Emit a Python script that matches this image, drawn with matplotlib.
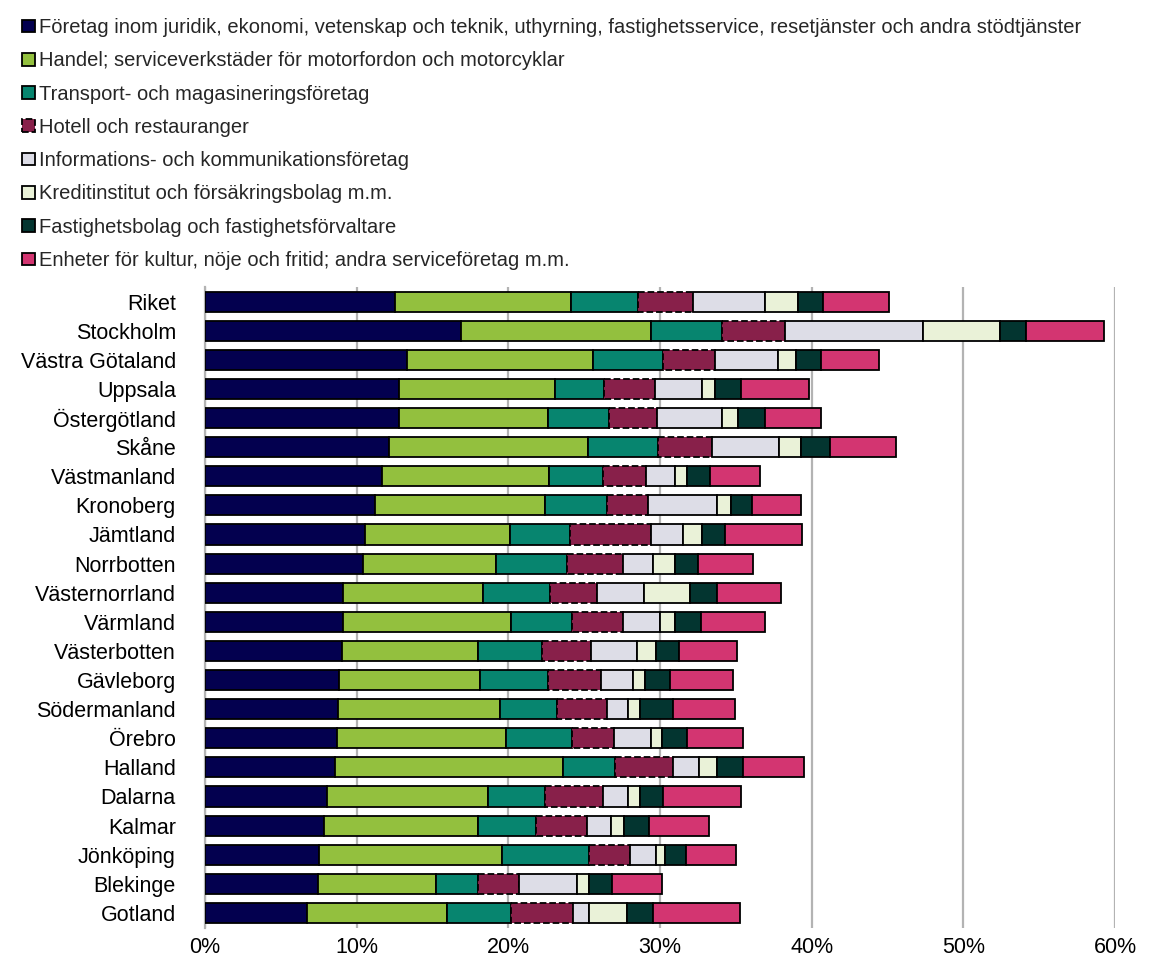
import numpy as np
import matplotlib
matplotlib.use("Agg")
import matplotlib.pyplot as plt
from matplotlib.ticker import PercentFormatter

plt.rcParams['font.family'] = ['Liberation Sans', 'DejaVu Sans']

regions = ["Riket", "Stockholm", "Västra Götaland", "Uppsala", "Östergötland", "Skåne",
           "Västmanland", "Kronoberg", "Jämtland", "Norrbotten", "Västernorrland", "Värmland",
           "Västerbotten", "Gävleborg", "Södermanland", "Örebro", "Halland", "Dalarna",
           "Kalmar", "Jönköping", "Blekinge", "Gotland"]

labels = [
    "Företag inom juridik, ekonomi, vetenskap och teknik, uthyrning, fastighetsservice, resetjänster och andra stödtjänster",
    "Handel; serviceverkstäder för motorfordon och motorcyklar",
    "Transport- och magasineringsföretag",
    "Hotell och restauranger",
    "Informations- och kommunikationsföretag",
    "Kreditinstitut och försäkringsbolag m.m.",
    "Fastighetsbolag och fastighetsförvaltare",
    "Enheter för kultur, nöje och fritid; andra serviceföretag m.m.",
]

# share of workplaces (%) per region, one list per sector
juridik = [12.5, 16.9, 13.3, 12.8, 12.8, 12.1, 11.7, 11.2, 10.55, 10.45, 9.1, 9.1,
           9.05, 8.83, 8.79, 8.72, 8.57, 8.02, 7.84, 7.53, 7.47, 6.74]
handel = [11.65, 12.5, 12.26, 10.3, 9.84, 13.17, 10.95, 11.19, 9.58, 8.74, 9.25, 11.05,
          8.93, 9.3, 10.66, 11.1, 15.05, 10.61, 10.18, 12.03, 7.76, 9.19]
transport = [4.42, 4.66, 4.61, 3.19, 4.02, 4.61, 3.62, 4.13, 3.95, 4.66, 4.39, 4.06,
             4.26, 4.46, 3.78, 4.39, 3.41, 3.78, 3.78, 5.77, 2.79, 4.24]
hotell = [3.58, 4.17, 3.48, 3.38, 3.17, 3.56, 2.82, 2.7, 5.32, 3.69, 3.08, 3.36,
          3.19, 3.5, 3.25, 2.77, 3.8, 3.81, 3.36, 2.69, 2.7, 4.11]
info = [4.75, 9.12, 4.11, 3.08, 4.28, 4.4, 1.91, 4.55, 2.13, 2.02, 3.12, 2.45,
        3.03, 2.14, 1.38, 2.42, 1.71, 1.68, 1.58, 1.71, 3.78, 1.05]
kredit = [2.17, 5.05, 1.2, 0.88, 1.04, 1.45, 0.79, 0.88, 1.25, 1.43, 3.03, 0.98,
          1.25, 0.75, 0.81, 0.75, 1.23, 0.77, 0.9, 0.59, 0.79, 2.47]
fastighet = [1.67, 1.7, 1.63, 1.69, 1.78, 1.91, 1.52, 1.4, 1.52, 1.54, 1.76, 1.7,
             1.56, 1.67, 2.16, 1.6, 1.72, 1.54, 1.65, 1.39, 1.54, 1.71]
kultur = [4.33, 5.16, 3.82, 4.49, 3.68, 4.37, 3.29, 3.26, 5.07, 3.62, 4.24, 4.22,
          3.82, 4.18, 4.09, 3.7, 4.0, 5.12, 3.91, 3.29, 3.27, 5.76]

series = [juridik, handel, transport, hotell, info, kredit, fastighet, kultur]
colors = ["#03004F", "#93C03E", "#07856F", "#88204A", "#DDDDE7", "#EAF2D8", "#033530", "#D33571"]

W, H = 1153, 965
fig = plt.figure(figsize=(W / 100, H / 100), dpi=100)
ax = fig.add_axes([205 / W, 1 - 927.5 / H, (1115 - 205) / W, (927.5 - 287) / H])

y = np.arange(len(regions))
left = np.zeros(len(regions))
handles = []
for i, vals in enumerate(series):
    vals = np.array(vals)
    style = "--" if i == 3 else "-"
    bars = ax.barh(y, vals, left=left, height=0.69, color=colors[i],
                   edgecolor="black", linewidth=1.3, linestyle=style, label=labels[i], zorder=3)
    handles.append(bars)
    left += vals

ax.set_ylim(len(regions) - 0.5, -0.5)
ax.set_xlim(0, 60)
ax.set_yticks(y)
ax.set_yticklabels(regions, fontsize=15.5)
ax.set_xticks(np.arange(0, 61, 10))
ax.xaxis.set_major_formatter(PercentFormatter(decimals=0))
ax.tick_params(axis="x", labelsize=15.5, length=0, pad=7)
ax.tick_params(axis="y", length=0, pad=21)
ax.grid(axis="x", color="#B3B3B3", linewidth=1.6, zorder=0)
for side in ["top", "right", "bottom"]:
    ax.spines[side].set_visible(False)
ax.spines["left"].set_color("#B3B3B3")
ax.spines["left"].set_linewidth(1.6)

leg = fig.legend(handles=handles, labels=labels, loc="upper left",
                 bbox_to_anchor=(22 / W, 1 - 18 / H), frameon=False, fontsize=14.5,
                 handlelength=0.66, handleheight=0.6, handletextpad=0.2,
                 labelspacing=0.71, borderaxespad=0, borderpad=0)
for t in leg.get_texts():
    t.set_color("#262626")

fig.savefig("out.png", dpi=100)
